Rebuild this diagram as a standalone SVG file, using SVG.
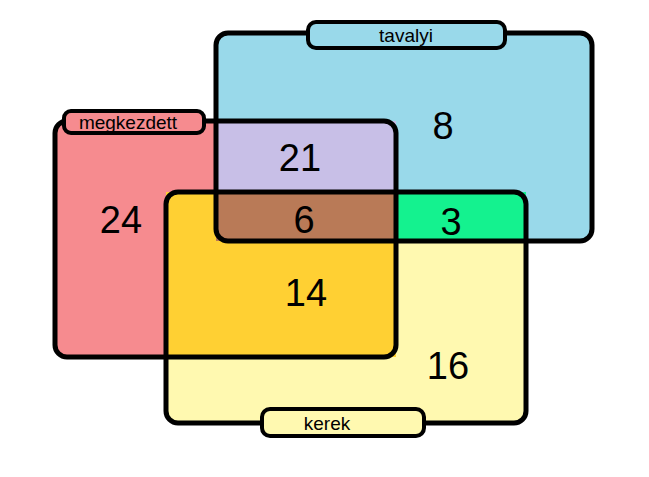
<svg xmlns="http://www.w3.org/2000/svg" width="649" height="477" viewBox="0 0 649 477">
<style>
.o{fill:none;stroke:#000;stroke-width:5}
.n{font-family:"Liberation Sans",Arial,sans-serif;font-size:38px;text-anchor:middle;fill:#000}
.l{font-family:"Liberation Sans",Arial,sans-serif;font-size:19px;text-anchor:middle;fill:#000}
.p{stroke:#000;stroke-width:4}
</style>
<rect width="649" height="477" fill="#fff"/>
<g id="fills">
<rect x="55" y="121" width="341" height="236" rx="12" fill="#f68b8f"/>
<rect x="216" y="33" width="376" height="208" rx="12" fill="#99d9ea"/>
<rect x="166" y="192" width="360" height="231" rx="12" fill="#fff9b0"/>
<rect x="216" y="121" width="180" height="120" fill="#c8bfe7"/>
<rect x="166" y="192" width="230" height="165" fill="#ffd033"/>
<rect x="216" y="192" width="310" height="49" fill="#14f28f"/>
<rect x="216" y="192" width="180" height="49" fill="#b97a57"/>
</g>
<g id="tavalyi"><rect class="o" x="216" y="33" width="376" height="208" rx="12"/>
<rect class="p" x="308" y="22" width="197" height="26" rx="8" fill="#99d9ea"/>
<text class="l" x="406" y="42">tavalyi</text></g>
<g id="megkezdett"><rect class="o" x="55" y="121" width="341" height="236" rx="12"/>
<rect class="p" x="64" y="111" width="140" height="22" rx="7" fill="#f68b8f"/>
<text class="l" x="128" y="129">megkezdett</text></g>
<g id="kerek"><rect class="o" x="166" y="192" width="360" height="231" rx="12"/>
<rect class="p" x="262" y="409" width="162" height="27" rx="8" fill="#fff9b0"/>
<text class="l" x="327" y="430">kerek</text></g>
<g id="numbers">
<text class="n" x="443" y="139">8</text>
<text class="n" x="300" y="171">21</text>
<text class="n" x="121" y="233">24</text>
<text class="n" x="304" y="233">6</text>
<text class="n" x="451" y="235">3</text>
<text class="n" x="306" y="306">14</text>
<text class="n" x="448" y="379">16</text>
</g>
</svg>
